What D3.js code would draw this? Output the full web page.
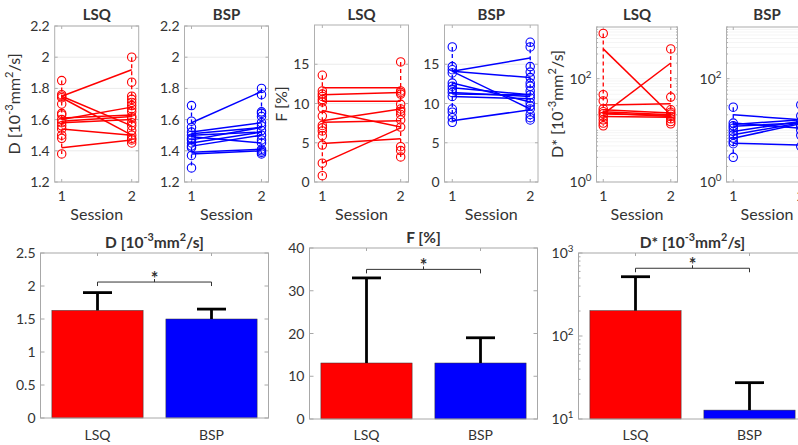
<!DOCTYPE html>
<html>
<head>
<meta charset="UTF-8">
<title>IVIM repeatability</title>
<script src="https://d3js.org/d3.v7.min.js"></script>
<style>
  body { margin: 0; background: #fff; font-family: Lato, "Open Sans", sans-serif; }
  svg { display: block; }
  text { fill: #333; }
</style>
</head>
<body>
<script>
// ---- data ----
const sessions = [1, 2];
const methods = ["LSQ", "BSP"];

// D [10^-3 mm^2/s], per-session measurements and subject lines (session 1 -> session 2)
const dLsqS1 = [1.85, 1.76, 1.75, 1.74, 1.70, 1.64, 1.63, 1.60, 1.58, 1.56, 1.54, 1.50, 1.48, 1.38];
const dLsqS2 = [2.00, 1.84, 1.75, 1.73, 1.71, 1.69, 1.67, 1.65, 1.62, 1.61, 1.58, 1.56, 1.53, 1.50, 1.48, 1.47, 1.45];
const dLsqPairs = [[1.75, 1.92], [1.75, 1.56], [1.74, 1.50], [1.60, 1.68], [1.61, 1.63], [1.59, 1.62], [1.58, 1.60], [1.54, 1.50], [1.42, 1.47]];

const dBspS1 = [1.69, 1.59, 1.55, 1.52, 1.50, 1.48, 1.47, 1.45, 1.43, 1.42, 1.37, 1.29];
const dBspS2 = [1.80, 1.76, 1.65, 1.64, 1.62, 1.58, 1.56, 1.53, 1.50, 1.47, 1.45, 1.41, 1.40, 1.39, 1.38];
const dBspPairs = [[1.58, 1.78], [1.52, 1.58], [1.51, 1.55], [1.50, 1.52], [1.49, 1.45], [1.47, 1.55], [1.45, 1.52], [1.43, 1.50], [1.39, 1.41], [1.38, 1.40]];

// F [%]
const fLsqS1 = [13.6, 11.6, 11.2, 10.9, 10.5, 10.2, 9.4, 8.4, 7.2, 6.9, 6.5, 5.9, 4.7, 2.4, 0.8];
const fLsqS2 = [15.3, 11.6, 11.4, 11.2, 9.9, 9.3, 9.0, 8.6, 7.9, 7.0, 4.5, 4.0, 3.2];
const fLsqPairs = [[12.0, 12.0], [11.1, 11.4], [10.3, 10.3], [9.1, 7.0], [7.8, 9.3], [7.6, 7.8], [4.9, 5.5], [2.4, 6.9]];

const fBspS1 = [17.2, 14.7, 14.3, 13.9, 12.6, 12.2, 11.8, 11.4, 10.9, 9.3, 8.9, 8.2, 7.6];
const fBspS2 = [17.8, 17.2, 14.7, 14.0, 13.3, 12.6, 12.2, 11.6, 11.1, 10.7, 10.1, 9.7, 9.3, 8.6, 8.2, 7.9];
const fBspPairs = [[14.1, 15.8], [14.1, 13.3], [14.1, 9.3], [12.6, 10.2], [12.0, 11.1], [11.4, 10.9], [11.2, 11.1], [10.9, 10.6], [7.8, 9.2]];

// D* [10^-3 mm^2/s]
const dsLsqS1 = [750, 49, 37, 26, 23, 21, 18.6, 16, 13.8, 12.2];
const dsLsqS2 = [377, 44, 25, 22.4, 20.6, 18.6, 16.7, 14.8, 13.4];
const dsLsqPairs = [[377, 20], [20.6, 201], [31, 32.6], [25, 21.6], [23, 20], [21.6, 18.6], [20.6, 19.5], [18.6, 18]];

const dsBspS1 = [28, 13.8, 12.2, 11, 9.5, 8.2, 7.1, 6.1, 5.5, 3.0];
const dsBspS2 = [31, 19, 15, 13, 12, 10, 8, 4.9];
const dsBspPairs = [[20, 16], [13.8, 11], [13, 16], [12, 14], [9.5, 15], [8.2, 14], [7, 13.5], [5.6, 5.2]];

// bar charts: mean and upper end of error bar per method
const dMean = [1.63, 1.50];
const dUpper = [1.90, 1.65];
const fMean = [13.1, 13.1];
const fUpper = [33.0, 19.0];
const dsMean = [202, 12.8];
const dsUpper = [518, 27.4];
const sigLevels = [2.06, 35, 655];

// tick values
const dTicks = [1.2, 1.4, 1.6, 1.8, 2, 2.2];
const fTicks = [0, 5, 10, 15];
const dsTicks = [1, 100];
const dBarTicks = [0, 0.5, 1, 1.5, 2, 2.5];
const fBarTicks = [0, 10, 20, 30, 40];
const dsBarTicks = [10, 100, 1000];

// ---- drawing ----
const red = "#ff0000", blue = "#0000ff";
const boxCol = "#b0b0b0", gridCol = "#ebebeb";

const svg = d3.select("body").append("svg")
  .attr("width", 798)
  .attr("height", 445);

// text with superscript parts: [[str, isSup], ...]
function rich(t, parts, fs) {
  let up = false;
  parts.forEach(([s, sp]) => {
    const ts = t.append("tspan").text(s);
    if (sp) {
      ts.attr("font-size", fs * 0.7);
      if (!up) { ts.attr("dy", -fs * 0.42); up = true; }
    } else if (up) {
      ts.attr("dy", fs * 0.42);
      up = false;
    }
  });
  return t;
}

const dLabel = [["D [10", 0], ["-3", 1], ["mm", 0], ["2", 1], ["/s]", 0]];
const dsLabel = [["D* [10", 0], ["-3", 1], ["mm", 0], ["2", 1], ["/s]", 0]];

function logLabel(t, v, fs) {
  return rich(t, [["10", 0], [String(Math.round(Math.log10(v))), 1]], fs);
}

function logMinor(domain) {
  const out = [];
  for (let k = Math.floor(Math.log10(domain[0])); k <= Math.ceil(Math.log10(domain[1])); k++) {
    for (let m = 1; m <= 9; m++) {
      const v = m * Math.pow(10, k);
      if (v >= domain[0] * 0.999 && v <= domain[1] * 1.001) out.push(v);
    }
  }
  return out;
}

function drawTop(p) {
  const bottom = 182;
  const x = d3.scaleLinear().domain([0.9, 2.1]).range([p.left, p.right]);
  const y = (p.log ? d3.scaleLog() : d3.scaleLinear()).domain(p.domain).range([bottom, p.top]);
  const g = svg.append("g");

  const gridVals = p.log ? logMinor(p.domain) : p.ticks;
  g.selectAll(".grid").data(gridVals).enter().append("line")
    .attr("x1", p.left).attr("x2", p.right)
    .attr("y1", d => y(d)).attr("y2", d => y(d))
    .attr("stroke", gridCol)
    .attr("stroke-dasharray", p.log ? "1,1" : null);

  g.append("rect")
    .attr("x", p.left).attr("y", p.top)
    .attr("width", p.right - p.left).attr("height", bottom - p.top)
    .attr("fill", "none").attr("stroke", boxCol);

  // inward ticks
  const yt = p.log ? logMinor(p.domain) : p.ticks;
  g.selectAll(".ytl").data(yt).enter().append("line")
    .attr("x1", p.left).attr("x2", d => p.left + (p.log && !p.ticks.includes(d) ? 1.5 : 3))
    .attr("y1", d => y(d)).attr("y2", d => y(d)).attr("stroke", boxCol);
  g.selectAll(".ytr").data(yt).enter().append("line")
    .attr("x1", p.right).attr("x2", d => p.right - (p.log && !p.ticks.includes(d) ? 1.5 : 3))
    .attr("y1", d => y(d)).attr("y2", d => y(d)).attr("stroke", boxCol);
  g.selectAll(".xtb").data(sessions).enter().append("line")
    .attr("x1", d => x(d)).attr("x2", d => x(d))
    .attr("y1", bottom).attr("y2", bottom - 3).attr("stroke", boxCol);
  g.selectAll(".xtt").data(sessions).enter().append("line")
    .attr("x1", d => x(d)).attr("x2", d => x(d))
    .attr("y1", p.top).attr("y2", p.top + 3).attr("stroke", boxCol);

  // tick labels
  g.selectAll(".ylab").data(p.ticks).enter().append("text")
    .attr("x", p.left - 5).attr("y", d => y(d) + 5)
    .attr("text-anchor", "end").attr("font-size", 14)
    .each(function (d) {
      if (p.log) logLabel(d3.select(this), d, 14);
      else d3.select(this).text(d3.format("~g")(d));
    });
  g.selectAll(".xlab").data(sessions).enter().append("text")
    .attr("x", d => x(d)).attr("y", 201)
    .attr("text-anchor", "middle").attr("font-size", 14)
    .text(d => d);
  g.append("text")
    .attr("x", (p.left + p.right) / 2).attr("y", 220)
    .attr("text-anchor", "middle").attr("font-size", 16)
    .text("Session");
  g.append("text")
    .attr("x", (p.left + p.right) / 2).attr("y", 20)
    .attr("text-anchor", "middle").attr("font-size", 15).attr("font-weight", "bold")
    .text(p.title);
  if (p.ylabel) {
    const t = g.append("text")
      .attr("transform", `translate(${p.ylabelX},104) rotate(-90)`)
      .attr("text-anchor", "middle").attr("font-size", 16);
    rich(t, p.ylabel, 16);
  }

  // dashed range lines per session
  [p.s1, p.s2].forEach((vals, i) => {
    g.append("line")
      .attr("x1", x(sessions[i])).attr("x2", x(sessions[i]))
      .attr("y1", y(d3.max(vals))).attr("y2", y(d3.min(vals)))
      .attr("stroke", p.color).attr("stroke-width", 1.3)
      .attr("stroke-dasharray", "4,3");
  });

  // subject lines
  g.selectAll(".pair").data(p.pairs).enter().append("line")
    .attr("x1", x(1)).attr("x2", x(2))
    .attr("y1", d => y(d[0])).attr("y2", d => y(d[1]))
    .attr("stroke", p.color).attr("stroke-width", 1.5);

  // measurement circles
  [p.s1, p.s2].forEach((vals, i) => {
    g.selectAll(null).data(vals).enter().append("circle")
      .attr("cx", x(sessions[i])).attr("cy", d => y(d))
      .attr("r", 4.2)
      .attr("fill", "none").attr("stroke", p.color).attr("stroke-width", 1.1);
  });
}

function drawBar(p) {
  const x = d3.scaleBand().domain(methods).range([p.left, p.right])
    .paddingInner(0.2).paddingOuter(0.1);
  const y = (p.log ? d3.scaleLog() : d3.scaleLinear()).domain(p.domain).range([p.bottom, p.top]);
  const g = svg.append("g");
  const cx = m => x(m) + x.bandwidth() / 2;

  g.selectAll(".bar").data(methods).enter().append("rect")
    .attr("x", d => x(d)).attr("width", x.bandwidth())
    .attr("y", (d, i) => y(p.mean[i]))
    .attr("height", (d, i) => p.bottom - y(p.mean[i]))
    .attr("fill", (d, i) => i ? blue : red)
    .attr("stroke", "#333").attr("stroke-width", 0.5);

  // error bars (upper half)
  g.selectAll(".err").data(methods).enter().append("line")
    .attr("x1", cx).attr("x2", cx)
    .attr("y1", (d, i) => y(p.mean[i])).attr("y2", (d, i) => y(p.upper[i]))
    .attr("stroke", "#000").attr("stroke-width", 2.8);
  g.selectAll(".cap").data(methods).enter().append("line")
    .attr("x1", d => cx(d) - 14.5).attr("x2", d => cx(d) + 14.5)
    .attr("y1", (d, i) => y(p.upper[i])).attr("y2", (d, i) => y(p.upper[i]))
    .attr("stroke", "#000").attr("stroke-width", 2.8);

  // box + ticks
  g.append("rect")
    .attr("x", p.left).attr("y", p.top)
    .attr("width", p.right - p.left).attr("height", p.bottom - p.top)
    .attr("fill", "none").attr("stroke", "#a8a8a8");
  const yt = p.log ? logMinor(p.domain) : p.ticks;
  const len = d => (p.log && !p.ticks.includes(d) ? 2 : 4);
  g.selectAll(".tl").data(yt).enter().append("line")
    .attr("x1", p.left).attr("x2", d => p.left + len(d))
    .attr("y1", d => y(d)).attr("y2", d => y(d)).attr("stroke", "#a8a8a8");
  g.selectAll(".tr").data(yt).enter().append("line")
    .attr("x1", p.right).attr("x2", d => p.right - len(d))
    .attr("y1", d => y(d)).attr("y2", d => y(d)).attr("stroke", "#a8a8a8");
  g.selectAll(".tb").data(methods).enter().append("line")
    .attr("x1", cx).attr("x2", cx)
    .attr("y1", p.top).attr("y2", p.top + 3).attr("stroke", "#a8a8a8");

  g.selectAll(".ylab").data(p.ticks).enter().append("text")
    .attr("x", p.left - 5).attr("y", d => y(d) + 5)
    .attr("text-anchor", "end").attr("font-size", 14)
    .each(function (d) {
      if (p.log) logLabel(d3.select(this), d, 14);
      else d3.select(this).text(d3.format("~g")(d));
    });
  g.selectAll(".xlab").data(methods).enter().append("text")
    .attr("x", cx).attr("y", 440)
    .attr("text-anchor", "middle").attr("font-size", 14)
    .text(d => d);
  const t = g.append("text")
    .attr("x", (p.left + p.right) / 2).attr("y", p.titleY)
    .attr("text-anchor", "middle").attr("font-size", 15.5).attr("font-weight", "bold");
  rich(t, p.title, 15.5);

  // significance bracket
  const by = y(p.sig);
  const a = cx(methods[0]), b = cx(methods[1]);
  g.append("path")
    .attr("d", `M${a},${by + 4}V${by}H${b}V${by + 4}M${(a + b) / 2},${by}V${by - 3}`)
    .attr("fill", "none").attr("stroke", "#333").attr("stroke-width", 1);
  g.append("text")
    .attr("x", (a + b) / 2).attr("y", by + 3)
    .attr("text-anchor", "middle").attr("font-size", 18).attr("font-weight", "bold")
    .text("*");
}

const topPanels = [
  { title: "LSQ", left: 54.7, right: 138.7, top: 26, domain: [1.2, 2.2], ticks: dTicks, s1: dLsqS1, s2: dLsqS2, pairs: dLsqPairs, color: red, ylabel: dLabel, ylabelX: 20 },
  { title: "BSP", left: 184.5, right: 268.5, top: 26, domain: [1.2, 2.2], ticks: dTicks, s1: dBspS1, s2: dBspS2, pairs: dBspPairs, color: blue },
  { title: "LSQ", left: 314.5, right: 408.5, top: 25, domain: [0, 20], ticks: fTicks, s1: fLsqS1, s2: fLsqS2, pairs: fLsqPairs, color: red, ylabel: [["F [%]", 0]], ylabelX: 287 },
  { title: "BSP", left: 444.5, right: 538, top: 25, domain: [0, 20], ticks: fTicks, s1: fBspS1, s2: fBspS2, pairs: fBspPairs, color: blue },
  { title: "LSQ", left: 596.5, right: 677.5, top: 27, log: true, domain: [1, 1000], ticks: dsTicks, s1: dsLsqS1, s2: dsLsqS2, pairs: dsLsqPairs, color: red, ylabel: dsLabel, ylabelX: 563 },
  { title: "BSP", left: 726.5, right: 807.5, top: 27, log: true, domain: [1, 1000], ticks: dsTicks, s1: dsBspS1, s2: dsBspS2, pairs: dsBspPairs, color: blue }
];
topPanels.forEach(drawTop);

const barPanels = [
  { title: dLabel, titleY: 248, left: 40.5, right: 268.5, top: 253, bottom: 418, domain: [0, 2.5], ticks: dBarTicks, mean: dMean, upper: dUpper, sig: sigLevels[0] },
  { title: [["F [%]", 0]], titleY: 243, left: 309.5, right: 537.5, top: 248, bottom: 419, domain: [0, 40], ticks: fBarTicks, mean: fMean, upper: fUpper, sig: sigLevels[1] },
  { title: dsLabel, titleY: 248, left: 578.5, right: 806.5, top: 253, bottom: 419, log: true, domain: [10, 1000], ticks: dsBarTicks, mean: dsMean, upper: dsUpper, sig: sigLevels[2] }
];
barPanels.forEach(drawBar);
</script>
</body>
</html>
